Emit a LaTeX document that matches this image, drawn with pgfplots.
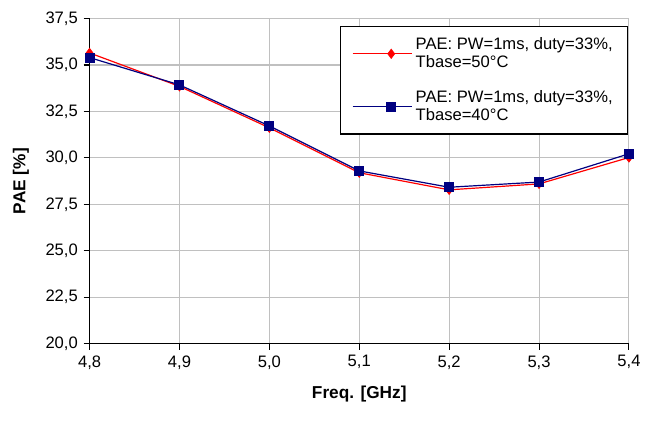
\documentclass[border=0pt]{standalone}
\usepackage{pgfplots}
\pgfplotsset{compat=1.18}
\usepackage{fontspec}
\setmainfont{Liberation Sans}
\definecolor{lgray}{HTML}{C0C0C0}
\definecolor{navyb}{HTML}{000080}
\begin{document}
\fontsize{12.5}{15}\selectfont
\begin{tikzpicture}
\begin{axis}[
  scale only axis,
  width=406.5pt, height=245pt,
  xmin=4.8, xmax=5.4, ymin=20, ymax=37.5,
  xtick={4.8,4.9,5.0,5.1,5.2,5.3,5.4},
  ytick={20,22.5,25,27.5,30,32.5,35,37.5},
  axis x line*=bottom, axis y line*=left,
  axis line style={black, line width=0.9pt},
  tick align=outside, major tick length=4.5pt,
  tick style={black, line width=0.8pt},
  grid=major, major grid style={lgray, line width=0.8pt},
  /pgf/number format/assume math mode=true,
  xticklabel style={/pgf/number format/.cd, use comma, fixed, fixed zerofill, precision=1},
  yticklabel style={/pgf/number format/.cd, use comma, fixed, fixed zerofill, precision=1},
  ticklabel style={font=\fontsize{12.5}{15}\selectfont},
  xlabel={\textbf{Freq. [GHz]}},
  ylabel={\textbf{PAE [\%]}},
  label style={font=\fontsize{13}{15}\selectfont},
  xlabel style={yshift=-4pt},
  ylabel style={yshift=4pt},
  legend cell align=left,
  legend image code/.code={%
    \path (-13pt,0pt) -- (0pt,0pt);
    \draw[mark repeat=2, mark phase=2, #1] plot coordinates {(0pt,0pt) (16pt,0pt) (32pt,0pt)};},
  legend style={at={(0.998,0.977)}, anchor=north east, draw=black, line width=0.9pt,
    font=\fontsize{12.5}{14}\selectfont, cells={align=left},
    row sep=11pt, inner xsep=9pt, inner ysep=6pt},
  clip=false,
]
\addplot[red, line width=0.9pt, mark=diamond*, mark size=3.5pt, mark options={fill=red, draw=red, line width=0.5pt}]
  coordinates {(4.8,35.65) (4.9,33.85) (5.0,31.62) (5.1,29.2) (5.2,28.28) (5.3,28.6) (5.4,30.02)};
\addlegendentry{PAE: PW=1ms, duty=33\%,\\Tbase=50°C}
\addplot[navyb, line width=0.9pt, mark=square*, mark size=3.3pt, mark options={fill=navyb, draw=navyb}]
  coordinates {(4.8,35.4) (4.9,33.93) (5.0,31.72) (5.1,29.3) (5.2,28.42) (5.3,28.7) (5.4,30.22)};
\addlegendentry{PAE: PW=1ms, duty=33\%,\\Tbase=40°C}
\end{axis}
\path (current axis.south west) ++(-67.5pt,-58pt) coordinate (bl);
\path (current axis.north east) ++(10.5pt,14pt) coordinate (tr);
\useasboundingbox (bl) rectangle (tr);
\end{tikzpicture}
\end{document}
